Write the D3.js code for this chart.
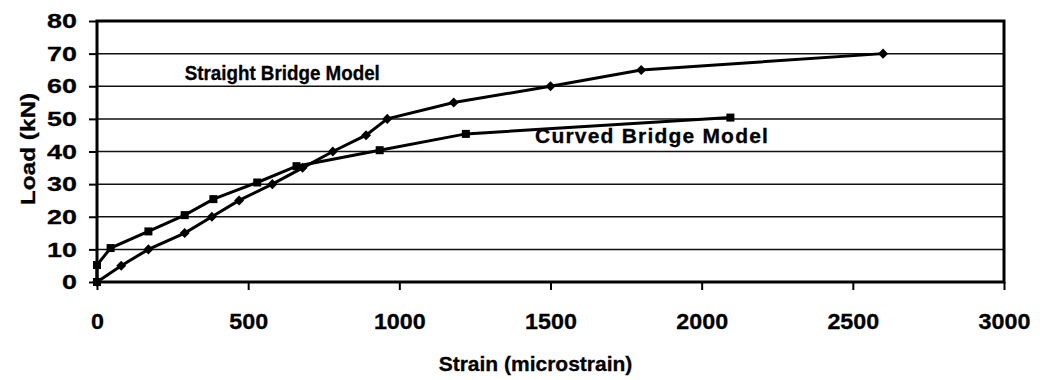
<!DOCTYPE html>
<html>
<head>
<meta charset="utf-8">
<script src="https://cdn.jsdelivr.net/npm/d3@7"></script>
<style>
body { margin: 0; background: #fff; }
text { font-family: "Liberation Sans", Arial, sans-serif; font-weight: bold; fill: #000; stroke: #000; stroke-width: 0.3px; }
</style>
</head>
<body>
<div id="chart"></div>
<script>
var straightStrain = [0, 80, 170, 290, 380, 470, 580, 680, 780, 890, 960, 1180, 1500, 1800, 2600];
var straightLoad = [0, 5, 10, 15, 20, 25, 30, 35, 40, 45, 50, 55, 60, 65, 70];
var curvedStrain = [0, 0, 45, 170, 290, 385, 530, 660, 935, 1220, 2095];
var curvedLoad = [0, 5.2, 10.4, 15.5, 20.5, 25.4, 30.5, 35.5, 40.4, 45.4, 50.4];
var xTicks = [0, 500, 1000, 1500, 2000, 2500, 3000];
var yTicks = [0, 10, 20, 30, 40, 50, 60, 70, 80];

var W = 1040, H = 380;
var margin = {top: 21, right: 36, bottom: 98, left: 97};
var width = W - margin.left - margin.right;
var height = H - margin.top - margin.bottom;

var svg = d3.select("#chart").append("svg")
	.attr("width", W)
	.attr("height", H);
var g = svg.append("g")
	.attr("transform", "translate(" + margin.left + "," + margin.top + ")");

var x = d3.scaleLinear().domain([0, 3000]).range([0, width]);
var y = d3.scaleLinear().domain([0, 80]).range([height, 0]);

// grid lines
g.selectAll(".grid")
	.data(yTicks.slice(1, -1))
	.enter().append("line")
	.attr("x1", 0).attr("x2", width)
	.attr("y1", function(d) { return y(d); })
	.attr("y2", function(d) { return y(d); })
	.attr("stroke", "#111")
	.attr("stroke-width", 1.5);

// axes
var xAxis = d3.axisBottom(x).tickValues(xTicks).tickFormat(d3.format("d")).tickSize(8).tickPadding(23);
var yAxis = d3.axisLeft(y).tickValues(yTicks).tickFormat(d3.format("d")).tickSize(8);

var gx = g.append("g")
	.attr("transform", "translate(0," + height + ")")
	.call(xAxis);
var gy = g.append("g").call(yAxis);
[gx, gy].forEach(function(a) {
	a.select(".domain").remove();
	a.selectAll(".tick line").attr("stroke", "#000").attr("stroke-width", 2);
	a.selectAll(".tick text")
		.attr("fill", "#000")
		.style("font-family", "'Liberation Sans', Arial, sans-serif")
		.style("font-weight", "bold");
});
gx.selectAll(".tick text")
	.style("font-size", "22px")
	.attr("transform", "scale(1.06,1)");
// the reference labels on the y axis are drawn wider than they are tall
gy.selectAll(".tick text")
	.style("font-size", "21px")
	.attr("x", 0)
	.attr("transform", "translate(-20,0) scale(1.28,1)");

// plot border
g.append("rect")
	.attr("width", width).attr("height", height)
	.attr("fill", "none")
	.attr("stroke", "#000")
	.attr("stroke-width", 3);

var straight = straightStrain.map(function(s, i) { return [s, straightLoad[i]]; });
var curved = curvedStrain.map(function(s, i) { return [s, curvedLoad[i]]; });

var line = d3.line()
	.x(function(d) { return x(d[0]); })
	.y(function(d) { return y(d[1]); });

[straight, curved].forEach(function(data) {
	g.append("path")
		.datum(data)
		.attr("d", line)
		.attr("fill", "none")
		.attr("stroke", "#000")
		.attr("stroke-width", 3);
});

g.selectAll(".diamond")
	.data(straight)
	.enter().append("path")
	.attr("d", d3.symbol().type(d3.symbolDiamond2).size(64))
	.attr("transform", function(d) { return "translate(" + x(d[0]) + "," + y(d[1]) + ")"; })
	.attr("fill", "#000");

g.selectAll(".square")
	.data(curved)
	.enter().append("rect")
	.attr("x", function(d) { return x(d[0]) - 4; })
	.attr("y", function(d) { return y(d[1]) - 4; })
	.attr("width", 8).attr("height", 8)
	.attr("fill", "#000");

// labels
g.append("text")
	.attr("transform", "translate(" + x(290) + "," + y(62) + ") scale(0.94,1)")
	.style("font-size", "20px")
	.text("Straight Bridge Model");
g.append("text")
	.attr("x", x(1449)).attr("y", y(42.6))
	.style("font-size", "21px")
	.style("letter-spacing", "1.2px")
	.text("Curved Bridge Model");

svg.append("text")
	.attr("x", margin.left + width / 2 - 15).attr("y", 371)
	.attr("text-anchor", "middle")
	.style("font-size", "21px")
	.text("Strain (microstrain)");

svg.append("text")
	.attr("transform", "translate(35,149) rotate(-90) scale(1.16,1)")
	.attr("text-anchor", "middle")
	.style("font-size", "21px")
	.text("Load (kN)");
</script>
</body>
</html>
